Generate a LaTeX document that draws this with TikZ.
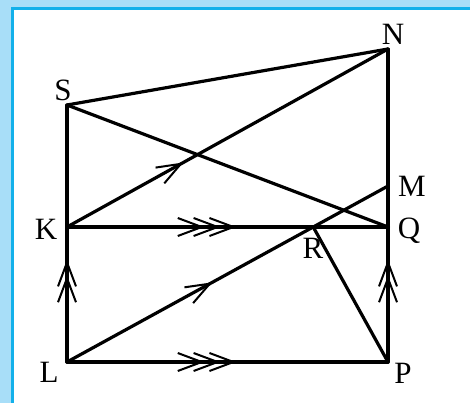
\documentclass[tikz,border=0pt]{standalone}
\usepackage{fontspec}
\setmainfont{Liberation Serif}
\usepackage{xcolor}
\usepackage{tikz}
\usetikzlibrary{arrows.meta, decorations.markings}
\definecolor{frameLight}{RGB}{168,222,248}
\definecolor{frameDark}{RGB}{18,176,234}
\tikzstyle{seg} = [line width=3.2pt, line cap=round, line join=round]
\tikzstyle{lbl} = [font=\fontsize{31}{35}\selectfont, inner sep=0pt]

\begin{document}
\begin{tikzpicture}[
    x=1pt, y=-1pt,
    chev/.tip={Straight Barb[length=24pt, width=18pt, line width=2pt, sep=-12pt]},
    chevtwo/.tip={Straight Barb[length=24pt, width=18pt, line width=2pt, sep=-12pt] Straight Barb[length=24pt, width=18pt, line width=2pt, sep=-12pt]},
    chevthree/.tip={Straight Barb[length=24pt, width=18pt, line width=2pt, sep=-12pt] Straight Barb[length=24pt, width=18pt, line width=2pt, sep=-12pt] Straight Barb[length=24pt, width=18pt, line width=2pt, sep=-12pt]},
    one/.style={postaction={decorate, decoration={markings, mark=at position #1 with {\arrow{chev}}}}},
    two/.style={postaction={decorate, decoration={markings, mark=at position #1 with {\arrow{chevtwo}}}}},
    three/.style={postaction={decorate, decoration={markings, mark=at position #1 with {\arrow{chevthree}}}}}
]
    \useasboundingbox (0,0) rectangle (470,403);

    % Frame
    \fill[frameLight] (0,0) rectangle (470,403);
    \fill[white] (14,10) rectangle (470,403);
    \draw[frameDark, line width=3pt] (12.5,403) -- (12.5,8.5) -- (470,8.5);

    % Points
    \coordinate (S) at (67,105);
    \coordinate (N) at (388,49);
    \coordinate (K) at (67,227);
    \coordinate (Q) at (388,227);
    \coordinate (M) at (388,186);
    \coordinate (L) at (67,362);
    \coordinate (P) at (388,362);
    \coordinate (R) at (intersection of L--M and K--Q);

    % Segments
    \draw[seg] (S) -- (N);
    \draw[seg] (S) -- (Q);
    \draw[seg] (S) -- (K);
    \draw[seg] (N) -- (Q);
    \draw[seg, one=0.33] (K) -- (N);
    \draw[seg, line width=4pt, three=0.49] (K) -- (Q);
    \draw[seg, one=0.42] (L) -- (M);
    \draw[seg] (R) -- (P);
    \draw[seg, three=0.49] (L) -- (P);
    \draw[seg, two=0.67] (L) -- (K);
    \draw[seg, two=0.67] (P) -- (Q);

    % Labels
    \node[lbl] (lblS) at (63,90) {S};
    \node[lbl] (lblN) at (393,34) {N};
    \node[lbl] (lblM) at (412,186) {M};
    \node[lbl] (lblK) at (46,229) {K};
    \node[lbl] (lblQ) at (409,231) {Q};
    \node[lbl] (lblR) at (313,248) {R};
    \node[lbl] (lblL) at (49,372) {L};
    \node[lbl] (lblP) at (403,373) {P};

\end{tikzpicture}
\end{document}
